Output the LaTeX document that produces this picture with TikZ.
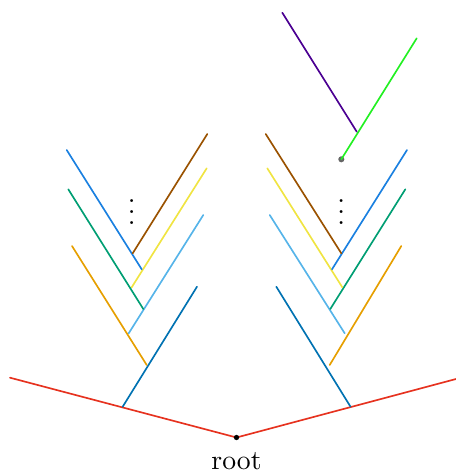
\documentclass[tikz,border=0pt]{standalone}
\begin{document}
\begin{tikzpicture}[x=0.3612pt,y=-0.3612pt,
  br/.style={line width=0.6pt, line cap=round},
  dotnode/.style={circle, fill, inner sep=0pt, minimum size=1.9pt}]
\definecolor{cred}{HTML}{E6321F}
\definecolor{cdblue}{HTML}{0072B2}
\definecolor{corange}{HTML}{E69F00}
\definecolor{csky}{HTML}{56B4E9}
\definecolor{cgreen}{HTML}{009E73}
\definecolor{cyellow}{HTML}{F0E442}
\definecolor{cblue}{HTML}{1A80E0}
\definecolor{cbrown}{HTML}{9A5200}
\definecolor{cpurple}{HTML}{4B0092}
\definecolor{clime}{HTML}{22F022}
\definecolor{cgray}{HTML}{666666}
\useasboundingbox (0,0) rectangle (456,472);
% coordinates
\coordinate (root) at (236.5,437.5);
\coordinate (redL) at (10,377.7);
\coordinate (redR) at (456,379);
% left side
\coordinate (dbL0) at (122.7,406.7); \coordinate (dbL1) at (197,286.7);
\coordinate (orL0) at (146.7,365);   \coordinate (orL1) at (72,246);
\coordinate (skL0) at (128.7,333.3); \coordinate (skL1) at (203.3,215);
\coordinate (grL0) at (143.3,309);   \coordinate (grL1) at (68.3,189.3);
\coordinate (yeL0) at (131.7,287.3); \coordinate (yeL1) at (206.7,168.3);
\coordinate (blL0) at (141.7,269.3); \coordinate (blL1) at (66.7,150);
\coordinate (bnL0) at (132.7,253.3); \coordinate (bnL1) at (207.3,134);
% right side
\coordinate (dbR0) at (350.5,406.7); \coordinate (dbR1) at (276.3,286.7);
\coordinate (orR0) at (329.7,365);   \coordinate (orR1) at (401.3,246);
\coordinate (skR0) at (344.7,333.3); \coordinate (skR1) at (269.7,215);
\coordinate (grR0) at (330.3,309);   \coordinate (grR1) at (405.3,189.3);
\coordinate (yeR0) at (342.3,287.3); \coordinate (yeR1) at (267.3,168.3);
\coordinate (blR0) at (332,269.3);   \coordinate (blR1) at (407,150);
\coordinate (bnR0) at (341.3,253.3); \coordinate (bnR1) at (265.7,134);
\coordinate (lmR1) at (416.7,38.3);
\coordinate (puR0) at (356.7,131.7); \coordinate (puR1) at (282.3,12.7);
% red base
\draw[br, cred] (redL) -- (root) -- (redR);
% left branches
\draw[br, cdblue]  (dbL0) -- (dbL1);
\draw[br, corange] (orL0) -- (orL1);
\draw[br, csky]    (skL0) -- (skL1);
\draw[br, cgreen]  (grL0) -- (grL1);
\draw[br, cyellow] (yeL0) -- (yeL1);
\draw[br, cblue]   (blL0) -- (blL1);
\draw[br, cbrown]  (bnL0) -- (bnL1);
% right branches
\draw[br, cdblue]  (dbR0) -- (dbR1);
\draw[br, corange] (orR0) -- (orR1);
\draw[br, csky]    (skR0) -- (skR1);
\draw[br, cgreen]  (grR0) -- (grR1);
\draw[br, cyellow] (yeR0) -- (yeR1);
\draw[br, cblue]   (blR0) -- (blR1);
\draw[br, cbrown]  (bnR0) -- (bnR1);
\node[dotnode, cgray, minimum size=2.2pt] (gdot) at (341.3,159.3) {};
\draw[br, clime]   (gdot.center) -- (lmR1);
\draw[br, cpurple] (puR0) -- (puR1);
% dots
\node[inner sep=0pt] (vdL) at (131.7,203.5) {$\vdots$};
\node[inner sep=0pt] (vdR) at (341.3,203.5) {$\vdots$};
% root
\node[dotnode, black] (rdot) at (root) {};
\node[anchor=north, inner sep=0pt] (rlabel) at (236.5,452) {root};
\end{tikzpicture}
\end{document}
